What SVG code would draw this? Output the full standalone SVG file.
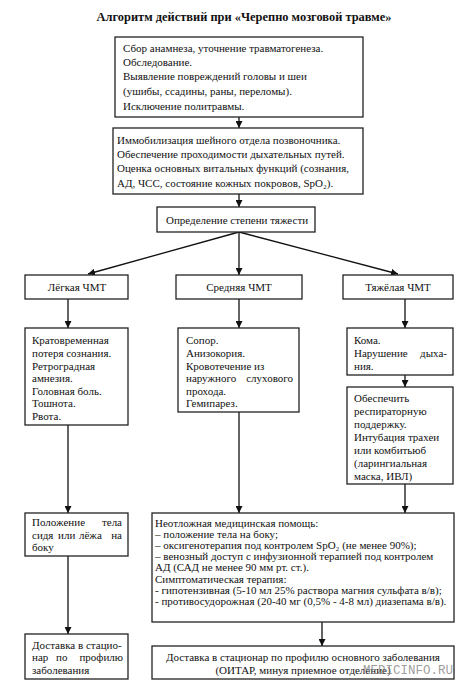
<svg xmlns="http://www.w3.org/2000/svg" width="474" height="695" viewBox="0 0 474 695">
<defs>
<marker id="ah" viewBox="0 0 10 10" refX="10" refY="5" markerWidth="7" markerHeight="7" markerUnits="userSpaceOnUse" orient="auto">
<path d="M0,0 L10,5 L0,10 z" fill="#111"/>
</marker>
<style>
.b{fill:#fff;stroke:#222;stroke-width:1.3}
.t{font-size:11px;fill:#111}
.s{font-size:11px;fill:#111}
.e{text-anchor:end}
.a{stroke:#111;stroke-width:1.3;fill:none;marker-end:url(#ah)}
</style>
</defs>
<rect width="474" height="695" fill="#fff"/>
<g font-family="'Liberation Serif', 'Times New Roman', serif">
<text x="244" y="21" text-anchor="middle" font-weight="bold" font-size="13" fill="#111" textLength="295" lengthAdjust="spacingAndGlyphs">Алгоритм действий при «Черепно мозговой травме»</text>

<g id="connectors">
<path class="a" d="M239,117 V128"/>
<path class="a" d="M239,194 V207"/>
<path class="a" d="M239,232 L88,274"/>
<path class="a" d="M239,232 V275"/>
<path class="a" d="M239,232 L398,274"/>
<path class="a" d="M68,299 V328"/>
<path class="a" d="M239,299 V328"/>
<path class="a" d="M405,299 V328"/>
<path class="a" d="M405,375 V387"/>
<path class="a" d="M68,425 V513"/>
<path class="a" d="M239,404 V513"/>
<path class="a" d="M405,484 V513"/>
<path class="a" d="M68,545 V634"/>
<path class="a" d="M322,622 V646"/>
</g>

<g id="n1">
<rect class="b" x="115" y="37" width="248" height="80"/>
<text class="t" x="123" y="52">Сбор анамнеза, уточнение травматогенеза.</text>
<text class="t" x="123" y="66">Обследование.</text>
<text class="t" x="123" y="80">Выявление повреждений головы и шеи</text>
<text class="t" x="123" y="95">(ушибы, ссадины, раны, переломы).</text>
<text class="t" x="123" y="110">Исключение политравмы.</text>
</g>

<g id="n2">
<rect class="b" x="113" y="128" width="250" height="66"/>
<text class="t" x="117" y="144">Иммобилизация шейного отдела позвоночника.</text>
<text class="t" x="117" y="158">Обеспечение проходимости дыхательных путей.</text>
<text class="t" x="117" y="172">Оценка основных витальных функций (сознания,</text>
<text class="t" x="117" y="187">АД, ЧСС, состояние кожных покровов, SpO₂).</text>
</g>

<g id="n3">
<rect class="b" x="157" y="207" width="158" height="25"/>
<text class="t" x="166" y="224">Определение степени тяжести</text>
</g>

<g id="l1">
<rect class="b" x="25" y="275" width="103" height="24"/>
<text class="t" x="77" y="291" text-anchor="middle">Лёгкая ЧМТ</text>
</g>
<g id="l2">
<rect class="b" x="176" y="275" width="126" height="24"/>
<text class="t" x="239" y="291" text-anchor="middle">Средняя ЧМТ</text>
</g>
<g id="l3">
<rect class="b" x="343" y="275" width="110" height="24"/>
<text class="t" x="398" y="291" text-anchor="middle">Тяжёлая ЧМТ</text>
</g>

<g id="s1">
<rect class="b" x="25" y="328" width="103" height="97"/>
<text class="t" x="32" y="344">Кратовременная</text>
<text class="t" x="32" y="357">потеря сознания.</text>
<text class="t" x="32" y="369.5">Ретроградная</text>
<text class="t" x="32" y="382">амнезия.</text>
<text class="t" x="32" y="394.5">Головная боль.</text>
<text class="t" x="32" y="407">Тошнота.</text>
<text class="t" x="32" y="419.5">Рвота.</text>
</g>

<g id="s2">
<rect class="b" x="178" y="328" width="121" height="84"/>
<text class="t" x="186" y="344">Сопор.</text>
<text class="t" x="186" y="357">Анизокория.</text>
<text class="t" x="186" y="369.5">Кровотечение из</text>
<text class="t" x="186" y="382">наружного</text>
<text class="t e" x="293" y="382">слухового</text>
<text class="t" x="186" y="394.5">прохода.</text>
<text class="t" x="186" y="407">Гемипарез.</text>
</g>

<g id="s3">
<rect class="b" x="347" y="328" width="106" height="47"/>
<text class="t" x="354" y="344">Кома.</text>
<text class="t" x="354" y="357">Нарушение</text>
<text class="t e" x="447" y="357">дыха-</text>
<text class="t" x="354" y="369.5">ния.</text>
</g>

<g id="s4">
<rect class="b" x="347" y="387" width="106" height="97"/>
<text class="t" x="354" y="402">Обеспечить</text>
<text class="t" x="354" y="415">респираторную</text>
<text class="t" x="354" y="428">поддержку.</text>
<text class="t" x="354" y="441">Интубация трахеи</text>
<text class="t" x="354" y="454">или комбитьюб</text>
<text class="t" x="354" y="466.5">(ларингиальная</text>
<text class="t" x="354" y="479.5">маска, ИВЛ)</text>
</g>

<g id="p1">
<rect class="b" x="25" y="513" width="103" height="43"/>
<text class="t" x="32" y="526">Положение</text>
<text class="t e" x="122" y="526">тела</text>
<text class="t" x="32" y="539">сидя</text>
<text class="t" x="58" y="539">или</text>
<text class="t" x="79" y="539">лёжа</text>
<text class="t e" x="122" y="539">на</text>
<text class="t" x="32" y="551">боку</text>
</g>

<g id="p2">
<rect class="b" x="152" y="513" width="302" height="109"/>
<text class="s" x="155" y="526.5">Неотложная медицинская помощь:</text>
<text class="s" x="155" y="537.7">– положение тела на боку;</text>
<text class="s" x="155" y="548.9">– оксигенотерапия под контролем SpO₂ (не менее 90%);</text>
<text class="s" x="155" y="560.1">– венозный доступ с инфузионной терапией под контролем</text>
<text class="s" x="155" y="571.3">АД (САД не менее 90 мм рт. ст.).</text>
<text class="s" x="155" y="582.5">Симптоматическая терапия:</text>
<text class="s" x="155" y="593.7">- гипотензивная (5-10 мл 25% раствора магния сульфата в/в);</text>
<text class="s" x="155" y="604.9">- противосудорожная (20-40 мг (0,5% - 4-8 мл) диазепама в/в).</text>
</g>

<g id="d1">
<rect class="b" x="25" y="634" width="103" height="45"/>
<text class="t" x="32" y="649">Доставка в стацио-</text>
<text class="t" x="32" y="661">нар</text>
<text class="t" x="56" y="661">по</text>
<text class="t e" x="123" y="661">профилю</text>
<text class="t" x="32" y="674">заболевания</text>
</g>

<g id="d2">
<rect class="b" x="152" y="646" width="302" height="33"/>
<text class="t" x="303" y="661" text-anchor="middle">Доставка в стационар по профилю основного заболевания</text>
<text class="t" x="303" y="674" text-anchor="middle">(ОИТАР, минуя приемное отделение)</text>
</g>
</g>
<text x="363" y="674" font-family="'Liberation Mono', monospace" font-size="12.5" fill="#8a8a8a" fill-opacity="0.85">MEDICINFO.RU</text>
</svg>
